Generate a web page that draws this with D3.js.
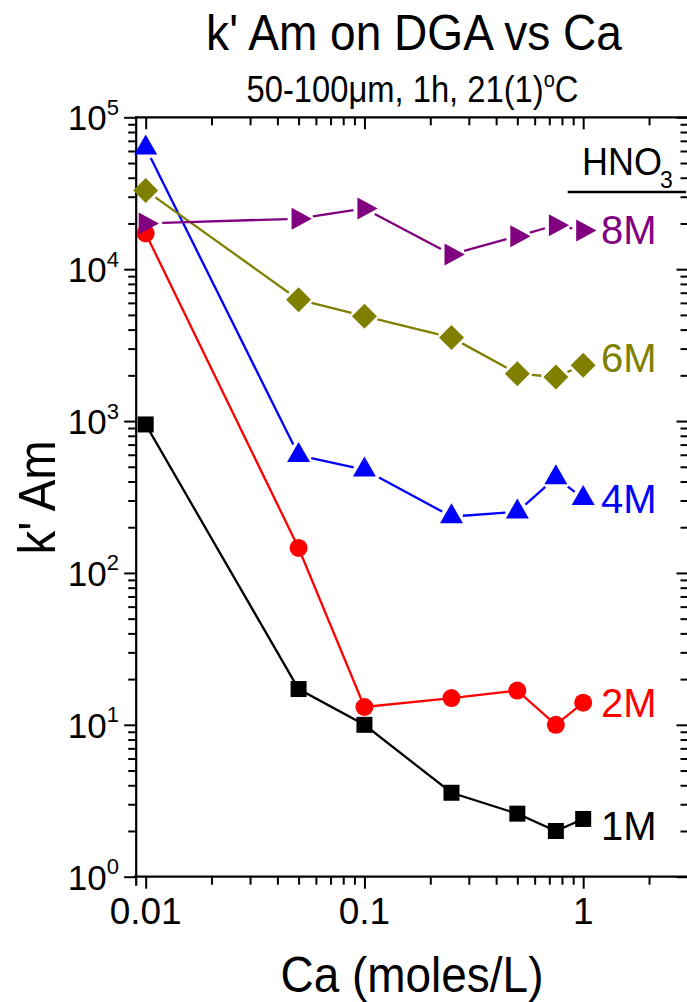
<!DOCTYPE html>
<html>
<head>
<meta charset="utf-8">
<script src="https://cdn.jsdelivr.net/npm/d3@7"></script>
<style>
  body { margin: 0; background: #fff; }
  svg { display: block; }
  text { font-family: "Liberation Sans", Arial, Helvetica, sans-serif; }
</style>
</head>
<body>
<svg id="chart" width="687" height="1002"></svg>
<script>
// Ca concentration (moles/L) on the x axis
const caValues = [0.01, 0.05, 0.1, 0.25, 0.5, 0.75, 1.0];

// k' Am for each HNO3 concentration
const k1M = [950, 17.2, 10, 3.57, 2.6, 2.0, 2.4];
const k2M = [17200, 146, 13.1, 15, 16.8, 10, 14];
const k4M = [63000, 595, 478, 235, 253, 425, 310];
const k6M = [33000, 6300, 4900, 3550, 2050, 1950, 2330];
const k8M = [20000, 21500, 25100, 12500, 16500, 19500, 18000];

const seriesLabels = ["1M", "2M", "4M", "6M", "8M"];
const seriesColors = ["#000000", "#ff0000", "#0000ff", "#808000", "#800080"];

const xTickValues = [0.01, 0.1, 1];
const xTickLabels = ["0.01", "0.1", "1"];
const yTickExponents = [0, 1, 2, 3, 4, 5];

const svg = d3.select("#chart");

const plotLeft = 136.2, plotRight = 688.5, plotTop = 117.3, plotBottom = 876.7;
const x = d3.scaleLog().domain([0.00905, 3.03]).range([plotLeft, plotRight]);
const y = d3.scaleLog().domain([1, 1e5]).range([plotBottom, plotTop]);

// minor tick positions (2..9 within each decade)
const xMinor = [];
[0.01, 0.1, 1].forEach(d => { for (let m = 2; m <= 9; m++) if (d * m <= 3.03) xMinor.push(d * m); });
const yMajor = yTickExponents.map(e => Math.pow(10, e));
const yMinor = [];
[1, 10, 100, 1000, 10000].forEach(d => { for (let m = 2; m <= 9; m++) yMinor.push(d * m); });

function styleAxis(g) {
  g.select(".domain").remove();
  g.selectAll(".tick line").attr("stroke", "#000").attr("stroke-width", 2);
  g.selectAll(".tick text").remove();
}

const axes = svg.append("g");
// bottom (outward ticks)
axes.append("g").attr("transform", `translate(0,${plotBottom})`)
  .call(d3.axisBottom(x).tickValues(xTickValues).tickSize(12).tickFormat("")).call(styleAxis);
axes.append("g").attr("transform", `translate(0,${plotBottom})`)
  .call(d3.axisBottom(x).tickValues(xMinor).tickSize(8).tickFormat("")).call(styleAxis);
// top (inward ticks)
axes.append("g").attr("transform", `translate(0,${plotTop})`)
  .call(d3.axisTop(x).tickValues(xTickValues).tickSize(-12).tickFormat("")).call(styleAxis);
axes.append("g").attr("transform", `translate(0,${plotTop})`)
  .call(d3.axisTop(x).tickValues(xMinor).tickSize(-8).tickFormat("")).call(styleAxis);
// left (outward ticks)
axes.append("g").attr("transform", `translate(${plotLeft},0)`)
  .call(d3.axisLeft(y).tickValues(yMajor).tickSize(12).tickFormat("")).call(styleAxis);
axes.append("g").attr("transform", `translate(${plotLeft},0)`)
  .call(d3.axisLeft(y).tickValues(yMinor).tickSize(8).tickFormat("")).call(styleAxis);
// right (inward ticks)
axes.append("g").attr("transform", `translate(${plotRight},0)`)
  .call(d3.axisRight(y).tickValues(yMajor).tickSize(-12).tickFormat("")).call(styleAxis);
axes.append("g").attr("transform", `translate(${plotRight},0)`)
  .call(d3.axisRight(y).tickValues(yMinor).tickSize(-8).tickFormat("")).call(styleAxis);

// frame lines
const frame = [
  [plotLeft, plotTop, plotRight, plotTop],
  [plotLeft, plotTop, plotLeft, plotBottom + 8],
  [plotLeft - 1, plotBottom, plotRight, plotBottom],
  [plotRight, plotTop, plotRight, plotBottom]
];
axes.selectAll("line.frame").data(frame).join("line").attr("class", "frame")
  .attr("x1", d => d[0]).attr("y1", d => d[1]).attr("x2", d => d[2]).attr("y2", d => d[3])
  .attr("stroke", "#000").attr("stroke-width", 2.2).attr("stroke-linecap", "square");

// y tick labels 10^n
const yLab = svg.append("g").selectAll("text").data(yTickExponents).join("text")
  .attr("x", 119).attr("y", d => y(Math.pow(10, d)) + 13)
  .attr("text-anchor", "end").attr("font-size", 35).attr("fill", "#000");
yLab.append("tspan").text("10");
yLab.append("tspan").attr("font-size", 22).attr("dy", -15.5).text(d => d);

// x tick labels
svg.append("g").selectAll("text").data(xTickValues).join("text")
  .attr("x", d => x(d)).attr("y", 924).attr("text-anchor", "middle")
  .attr("font-size", 37).attr("fill", "#000").text((d, i) => xTickLabels[i]);

// squeeze a text horizontally to a target width around its centre
function fitWidth(sel, target) {
  const bb = sel.node().getBBox();
  const cx = bb.x + bb.width / 2;
  const s = target / bb.width;
  sel.attr("transform", `translate(${cx},0) scale(${s},1) translate(${-cx},0)`);
}

// titles
const title = svg.append("text").attr("x", 414).attr("y", 50).attr("text-anchor", "middle")
  .attr("font-size", 50).attr("fill", "#000").text("k' Am on DGA vs Ca");
fitWidth(title, 416);

const sub = svg.append("text").attr("x", 412.5).attr("y", 101.7).attr("text-anchor", "middle")
  .attr("font-size", 36).attr("fill", "#000");
sub.append("tspan").text("50-100\u03bcm, 1h, 21(1)");
sub.append("tspan").attr("font-size", 22).attr("dy", -14.4).text("o");
sub.append("tspan").attr("dy", 14.4).text("C");
fitWidth(sub, 332);

const xTitle = svg.append("text").attr("x", 412).attr("y", 992).attr("text-anchor", "middle")
  .attr("font-size", 50).attr("fill", "#000").text("Ca (moles/L)");
fitWidth(xTitle, 263);

const yTitleG = svg.append("g").attr("transform", "translate(55,497.5) rotate(-90)");
const yTitle = yTitleG.append("text").attr("x", 0).attr("y", 0).attr("text-anchor", "middle")
  .attr("font-size", 52).attr("fill", "#000").text("k' Am");
fitWidth(yTitle, 114);

// HNO3 legend header
const hno = svg.append("text").attr("x", 578.7).attr("y", 175).attr("font-size", 39)
  .attr("fill", "#000").text("HNO");
fitWidth(hno, 80);
svg.append("text").attr("x", 660).attr("y", 188.3).attr("font-size", 23).attr("fill", "#000").text("3");
svg.append("line").attr("x1", 567.7).attr("x2", 686).attr("y1", 192).attr("y2", 192)
  .attr("stroke", "#000").attr("stroke-width", 2.5);

// marker shapes (vertices relative to the data point)
const shapes = {
  square:   { poly: [[-8, -8], [8, -8], [8, 8], [-8, 8]] },
  circle:   { r: 9 },
  triUp:    { poly: [[0, -13.3], [11.5, 6.7], [-11.5, 6.7]] },
  diamond:  { poly: [[0, -12.5], [12.5, 0], [0, 12.5], [-12.5, 0]] },
  triRight: { poly: [[-7, -11], [13.3, 0], [-7, 11]] }
};

function cross(a, b) { return a[0] * b[1] - a[1] * b[0]; }
// distance from the marker centre to its outline along direction d
function boundary(shape, d) {
  if (shape.r) return shape.r;
  let best = Infinity;
  const p = shape.poly;
  for (let i = 0; i < p.length; i++) {
    const a = p[i], b = p[(i + 1) % p.length];
    const e = [b[0] - a[0], b[1] - a[1]];
    const den = cross(d, e);
    if (Math.abs(den) < 1e-9) continue;
    const t = cross(a, e) / den, s = cross(a, d) / den;
    if (t > 0 && s >= -1e-6 && s <= 1 + 1e-6) best = Math.min(best, t);
  }
  return best;
}

const series = [
  { label: seriesLabels[0], values: k1M, color: seriesColors[0], shape: "square",   gap: 0, labelY: 840 },
  { label: seriesLabels[1], values: k2M, color: seriesColors[1], shape: "circle",   gap: 0, labelY: 717 },
  { label: seriesLabels[2], values: k4M, color: seriesColors[2], shape: "triUp",    gap: 4, labelY: 513 },
  { label: seriesLabels[3], values: k6M, color: seriesColors[3], shape: "diamond",  gap: 3, labelY: 372 },
  { label: seriesLabels[4], values: k8M, color: seriesColors[4], shape: "triRight", gap: 4, labelY: 244 }
];

const lineWidth = 2.3;
const plot = svg.append("g");
series.forEach(s => {
  const g = plot.append("g");
  const pts = caValues.map((c, i) => [x(c), y(s.values[i])]);
  const shape = shapes[s.shape];
  if (s.gap === 0) {
    g.append("path").attr("d", d3.line()(pts)).attr("fill", "none")
      .attr("stroke", s.color).attr("stroke-width", lineWidth);
  } else {
    for (let i = 0; i < pts.length - 1; i++) {
      const [x0, y0] = pts[i], [x1, y1] = pts[i + 1];
      const L = Math.hypot(x1 - x0, y1 - y0);
      const d = [(x1 - x0) / L, (y1 - y0) / L];
      const a = boundary(shape, d) + s.gap;
      const b = boundary(shape, [-d[0], -d[1]]) + s.gap;
      if (a + b >= L) continue;
      g.append("line")
        .attr("x1", x0 + d[0] * a).attr("y1", y0 + d[1] * a)
        .attr("x2", x1 - d[0] * b).attr("y2", y1 - d[1] * b)
        .attr("stroke", s.color).attr("stroke-width", lineWidth);
    }
  }
  if (shape.r) {
    g.selectAll("circle").data(pts).join("circle")
      .attr("cx", p => p[0]).attr("cy", p => p[1]).attr("r", shape.r).attr("fill", s.color);
  } else {
    const poly = "M" + shape.poly.map(v => v.join(",")).join("L") + "Z";
    g.selectAll("path.m").data(pts).join("path").attr("class", "m")
      .attr("d", poly).attr("transform", p => `translate(${p[0]},${p[1]})`).attr("fill", s.color);
  }
  g.append("text").attr("x", 601).attr("y", s.labelY).attr("font-size", 40)
    .attr("fill", s.color).text(s.label);
});
</script>
</body>
</html>
